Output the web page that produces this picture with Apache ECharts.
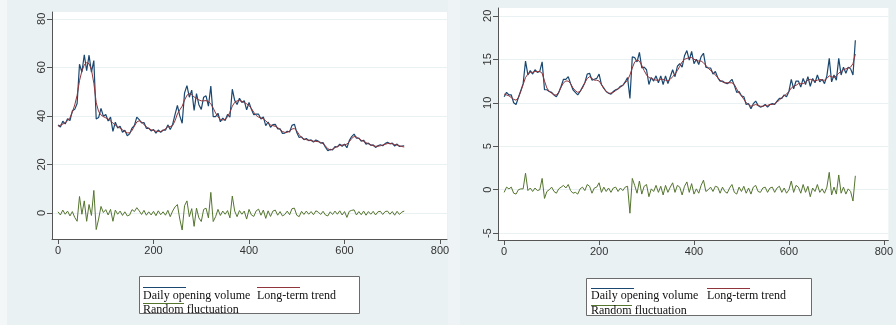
<!DOCTYPE html>
<html>
<head>
<meta charset="utf-8">
<title>Decomposition of daily opening volume</title>
<script src="https://cdn.jsdelivr.net/npm/echarts@6/dist/echarts.min.js"></script>
<style>
  html, body { margin: 0; padding: 0; background: #e9f1f3; }
  #chart { width: 896px; height: 325px; }
</style>
</head>
<body>
<div id="chart"></div>
<script>
// x index: one reading every 5 days
const leftDays = []
for (let d = 0; d <= 725; d += 5) leftDays.push(d)
const rightDays = []
for (let d = 0; d <= 740; d += 5) rightDays.push(d)

// left panel
const leftDaily = [
  36.3, 35.4, 37.8, 36.7, 38.8, 38.1, 42.1, 42.7, 45.1, 61.3,
  58.0, 65.2, 58.6, 65.0, 58.0, 62.8, 38.7, 39.3, 43.1, 39.9,
  40.6, 37.9, 39.5, 33.6, 37.4, 35.0, 35.8, 33.3, 34.1, 31.8,
  32.6, 35.0, 36.1, 39.5, 38.5, 37.1, 37.3, 34.9, 35.0, 33.8,
  34.4, 32.9, 34.2, 33.2, 34.2, 34.1, 36.3, 34.4, 36.5, 40.5,
  44.3, 40.0, 37.0, 49.5, 52.5, 47.7, 50.6, 42.3, 49.2, 44.6,
  42.7, 47.7, 48.3, 44.0, 52.3, 39.7, 39.7, 41.1, 37.6, 39.1,
  38.1, 40.6, 39.5, 51.0, 46.4, 44.7, 47.3, 45.5, 46.3, 42.5,
  45.5, 42.7, 40.5, 40.7, 40.7, 38.7, 39.6, 36.0, 37.5, 35.3,
  36.4, 36.5, 34.7, 34.7, 32.8, 32.9, 33.7, 33.4, 36.1, 36.6,
  33.2, 31.1, 31.4, 30.2, 30.7, 29.8, 30.1, 29.2, 30.1, 29.6,
  28.8, 29.0, 27.1, 25.7, 26.2, 26.0, 27.4, 27.2, 28.4, 27.5,
  28.4, 26.9, 29.8, 31.5, 32.5, 30.8, 30.9, 29.6, 30.0, 28.4,
  28.8, 27.9, 28.1, 27.0, 27.7, 28.1, 27.7, 28.6, 29.1, 28.5,
  28.8, 27.6, 28.4, 27.4, 27.6, 27.7
]
const leftTrend = [
  35.8, 36.2, 36.6, 37.2, 38.0, 39.3, 41.5, 44.5, 48.5, 54.5,
  58.5, 61.0, 62.0, 61.5, 59.0, 53.5, 45.5, 41.8, 40.4, 39.7,
  39.2, 38.7, 38.0, 37.0, 36.2, 35.5, 35.0, 34.3, 33.6, 33.0,
  33.0, 34.0, 35.8, 37.5, 38.0, 37.4, 36.5, 35.5, 34.8, 34.3,
  34.0, 33.7, 33.6, 33.6, 34.0, 34.7, 35.5, 35.6, 36.0, 38.0,
  40.8, 42.5, 44.0, 46.5, 48.5, 49.2, 48.8, 47.8, 47.2, 46.6,
  46.2, 46.2, 46.3, 46.0, 45.0, 43.2, 41.2, 39.6, 38.6, 38.3,
  38.6, 39.6, 41.5, 44.0, 45.6, 46.2, 46.3, 46.0, 45.5, 45.0,
  44.3, 43.0, 41.5, 40.2, 39.5, 39.2, 38.8, 38.0, 37.0, 36.3,
  36.0, 35.7, 35.2, 34.4, 33.6, 33.2, 33.2, 33.8, 34.6, 34.8,
  33.8, 32.3, 31.0, 30.5, 30.2, 30.0, 29.8, 29.6, 29.5, 29.4,
  29.1, 28.6, 27.6, 26.5, 26.0, 26.3, 26.9, 27.4, 27.8, 28.0,
  28.1, 28.4, 29.4, 30.7, 31.5, 31.3, 30.6, 30.0, 29.5, 29.0,
  28.5, 28.1, 27.7, 27.5, 27.5, 27.7, 28.0, 28.3, 28.6, 28.7,
  28.5, 28.2, 28.0, 27.7, 27.4, 27.2
]
const leftNoise = [
  0.5, -0.8, 1.2, -0.5, 0.8, -1.2, 0.6, -1.8, -3.4, 6.8,
  -0.5, 5.0, -3.4, 3.5, -1.0, 9.3, -6.8, -2.5, 2.7, 0.2,
  1.4, -0.8, 1.5, -3.4, 1.2, -0.5, 0.8, -1.0, 0.5, -1.2,
  -0.8, 1.4, 0.6, 2.2, 0.9, -0.6, 1.1, -0.9, 0.5, -0.8,
  0.7, -1.1, 0.9, -0.7, 0.5, -0.9, 1.1, -1.5, 0.8, 2.5,
  3.5, -2.5, -7.0, 3.0, 5.0, -1.5, 1.8, -5.5, 2.0, -2.0,
  -3.5, 1.5, 2.0, -2.0, 8.5, -3.5, -1.5, 1.5, -1.0, 0.8,
  -0.5, 1.0, -2.0, 7.0, 0.8, -1.5, 1.0, -0.5, 0.8, -2.5,
  1.5, -0.8, -1.4, 0.9, 1.6, -0.9, 1.2, -2.2, 0.9, -1.4,
  0.8, 1.2, -0.9, 0.6, -1.2, -0.6, 0.8, -0.7, 1.8, 2.0,
  -0.9, -1.5, 0.7, -0.6, 0.8, -0.5, 0.6, -0.7, 0.9, 0.4,
  -0.6, 0.7, -0.8, -1.2, 0.5, -0.6, 0.8, -0.5, 0.9, -0.8,
  0.6, -1.8, 0.7, 1.1, 1.3, -0.8, 0.6, -0.7, 0.8, -0.9,
  0.6, -0.5, 0.7, -0.8, 0.5, 0.7, -0.6, 0.6, 0.8, -0.5,
  0.6, -0.9, 0.7, -0.6, 0.4, 0.8
]

// right panel
const rightDaily = [
  10.7, 11.2, 10.9, 10.9, 10.0, 9.8, 10.6, 11.4, 12.2, 14.8,
  13.2, 13.7, 13.3, 13.8, 13.5, 13.6, 14.7, 11.5, 11.5, 11.3,
  11.2, 10.9, 10.7, 11.2, 11.9, 12.7, 12.7, 13.0, 12.2, 11.5,
  11.2, 10.9, 11.3, 11.8, 12.3, 13.3, 13.4, 12.6, 12.7, 12.8,
  13.3, 12.1, 11.7, 11.3, 11.1, 11.0, 11.3, 11.5, 11.6, 11.9,
  12.0, 12.4, 12.9, 10.5, 15.3, 15.2, 14.7, 15.8, 14.0, 14.1,
  13.8, 12.1, 12.9, 12.5, 13.1, 12.3, 13.1, 12.1, 13.1, 12.2,
  13.0, 13.8, 13.0, 14.2, 14.5, 14.1, 15.4, 16.0, 14.9, 15.9,
  14.5, 15.0, 14.4, 15.3, 15.7, 14.1, 14.0, 14.0, 13.3, 13.6,
  12.9, 12.5, 12.5, 12.3, 12.2, 12.4, 12.7, 12.0, 11.2, 11.3,
  10.8, 10.7, 9.8, 9.9, 9.3, 9.9, 10.2, 9.7, 9.5, 9.6,
  9.8, 9.5, 9.8, 9.9, 9.8, 10.2, 10.5, 10.5, 10.9, 10.7,
  11.3, 12.7, 11.6, 12.5, 12.5, 11.8, 12.8, 12.1, 13.0, 11.9,
  12.8, 12.3, 13.2, 12.4, 12.7, 12.2, 13.1, 15.1, 12.4, 13.2,
  12.6, 15.1, 13.2, 14.1, 13.4, 14.1, 13.9, 13.2, 17.2
]
const rightTrend = [
  11.0, 10.9, 10.8, 10.6, 10.4, 10.3, 10.6, 11.3, 12.1, 12.9,
  13.3, 13.5, 13.5, 13.6, 13.6, 13.6, 13.4, 12.5, 11.7, 11.3,
  11.1, 10.9, 10.9, 11.2, 11.8, 12.3, 12.5, 12.5, 12.2, 11.7,
  11.4, 11.2, 11.3, 11.7, 12.3, 12.8, 13.0, 12.8, 12.6, 12.6,
  12.5, 12.1, 11.6, 11.3, 11.1, 11.1, 11.2, 11.4, 11.6, 11.8,
  12.0, 12.3, 12.6, 13.2, 14.0, 14.7, 14.9, 14.8, 14.3, 13.7,
  13.2, 12.9, 12.8, 12.7, 12.6, 12.6, 12.7, 12.7, 12.6, 12.5,
  12.7, 13.0, 13.3, 13.7, 14.2, 14.7, 15.0, 15.1, 15.2, 15.2,
  15.0, 14.9, 14.8, 14.8, 14.6, 14.3, 14.0, 13.7, 13.5, 13.2,
  12.9, 12.6, 12.4, 12.3, 12.3, 12.3, 12.3, 12.1, 11.6, 11.1,
  10.8, 10.4, 10.0, 9.8, 9.6, 9.7, 9.8, 9.7, 9.6, 9.6,
  9.7, 9.7, 9.8, 9.8, 9.9, 10.1, 10.3, 10.6, 10.8, 11.0,
  11.3, 11.7, 11.9, 12.0, 12.2, 12.2, 12.2, 12.4, 12.6, 12.7,
  12.6, 12.5, 12.6, 12.7, 12.6, 12.6, 12.8, 13.1, 13.0, 12.9,
  13.1, 13.4, 13.6, 13.8, 13.9, 14.0, 14.1, 14.5, 15.6
]
const rightNoise = [
  -0.3, 0.3, 0.1, 0.3, -0.4, -0.5, 0.0, 0.1, 0.1, 1.9,
  -0.1, 0.2, -0.2, 0.2, -0.1, 0.0, 1.3, -1.0, -0.2, 0.0,
  0.3, -0.2, -0.4, 0.1, 0.3, 0.5, 0.2, 0.6, -0.1, -0.4,
  -0.3, -0.5, 0.1, 0.3, -0.1, 0.6, 0.4, -0.4, 0.2, 0.3,
  0.8, -0.3, 0.3, -0.2, 0.2, -0.3, 0.2, 0.3, -0.2, 0.2,
  -0.1, 0.3, 0.4, -2.7, 1.3, 0.5, -0.4, 1.0, -0.5, 0.4,
  0.6, -0.8, 0.1, -0.2, 0.5, -0.3, 0.4, -0.6, 0.5, -0.3,
  0.3, 0.8, -0.3, 0.5, 0.3, -0.6, 0.4, 0.9, -0.3, 0.7,
  -0.5, 0.1, -0.4, 0.5, 1.1, -0.2, 0.0, 0.3, -0.2, 0.4,
  0.3, -0.4, 0.3, -0.2, -0.4, 0.2, 0.6, -0.3, -0.5, 0.3,
  -0.2, 0.4, -0.4, 0.2, -0.5, 0.3, 0.5, -0.2, -0.3, 0.2,
  0.3, -0.3, 0.2, 0.3, -0.3, 0.2, 0.4, -0.3, 0.2, -0.4,
  0.0, 1.0, -0.3, 0.5, 0.3, -0.4, 0.6, -0.3, 0.4, -0.8,
  0.2, -0.2, 0.6, -0.3, 0.1, -0.4, 0.3, 2.0, -0.6, 0.3,
  -0.5, 1.7, -0.4, 0.3, -0.5, 0.1, -0.2, -1.3, 1.6
]

const xTicks = [0, 200, 400, 600, 800]
const leftYTicks = [0, 20, 40, 60, 80]
const rightYTicks = [-5, 0, 5, 10, 15, 20]
const legendNames = ['Daily opening volume', 'Long-term trend', 'Random fluctuation']

const NAVY = '#1a476f'
const MAROON = '#90353b'
const GREEN = '#55752f'
const AXIS = '#555'
const GRIDLINE = '#eaf1f3'

const pair = (days, vals) => days.map((d, i) => [d, vals[i]])

const xAxisOf = (idx, min, max) => ({
  type: 'value', gridIndex: idx, min: min, max: max,
  axisLine: { show: true, onZero: false, lineStyle: { color: AXIS, width: 1 } },
  axisTick: { show: true, length: 5, lineStyle: { color: AXIS }, customValues: xTicks },
  axisLabel: { customValues: xTicks, color: '#333', fontSize: 11, fontFamily: 'Liberation Sans', margin: 6 },
  splitLine: { show: false }
})

const yAxisOf = (idx, min, max, ticks) => ({
  type: 'value', gridIndex: idx, min: min, max: max,
  axisLine: { show: true, onZero: false, lineStyle: { color: AXIS, width: 1 } },
  axisTick: { show: true, length: 5, lineStyle: { color: AXIS }, customValues: ticks },
  axisLabel: { customValues: ticks, rotate: 90, color: '#333', fontSize: 11, fontFamily: 'Liberation Sans', margin: 5 },
  splitLine: { show: true, lineStyle: { color: GRIDLINE, width: 1 } }
})

const lineSeries = (name, idx, days, vals, color, width) => ({
  name: name, type: 'line', xAxisIndex: idx, yAxisIndex: idx,
  data: pair(days, vals), showSymbol: false, symbol: 'none',
  lineStyle: { color: color, width: width }, itemStyle: { color: color },
  silent: true, animation: false
})

// Stata-style legend box, line sample sits over each key
const legendBox = (b) => [
  { type: 'rect', shape: { x: b.x, y: b.y, width: b.w, height: b.h },
    style: { fill: '#fff', stroke: '#6b6b6b', lineWidth: 1 } },
  { type: 'line', shape: { x1: b.c1, y1: b.l1, x2: b.c1 + 43, y2: b.l1 }, style: { stroke: NAVY, lineWidth: 1 } },
  { type: 'line', shape: { x1: b.c2, y1: b.l1, x2: b.c2 + 43, y2: b.l1 }, style: { stroke: MAROON, lineWidth: 1 } },
  { type: 'line', shape: { x1: b.c1, y1: b.l2, x2: b.c1 + 41, y2: b.l2 }, style: { stroke: GREEN, lineWidth: 1 } },
  { type: 'text', x: b.c1, y: b.r1, style: { text: legendNames[0], fill: '#111', font: '12px "Liberation Serif"', verticalAlign: 'middle' } },
  { type: 'text', x: b.c2, y: b.r1, style: { text: legendNames[1], fill: '#111', font: '12px "Liberation Serif"', verticalAlign: 'middle' } },
  { type: 'text', x: b.c1, y: b.r2, style: { text: legendNames[2], fill: '#111', font: '12px "Liberation Serif"', verticalAlign: 'middle' } }
]

const chart = echarts.init(document.getElementById('chart'), null, { renderer: 'canvas' })

chart.setOption({
  backgroundColor: '#e9f1f3',
  animation: false,
  grid: [
    { left: 52, top: 12, width: 395, height: 227, show: true, backgroundColor: '#fff', borderWidth: 0 },
    { left: 498, top: 8, width: 400, height: 232, show: true, backgroundColor: '#fff', borderWidth: 0 }
  ],
  xAxis: [xAxisOf(0, -12.6, 814.6), xAxisOf(1, -13, 809.6)],
  yAxis: [yAxisOf(0, -10.7, 82.8, leftYTicks), yAxisOf(1, -5.78, 20.9, rightYTicks)],
  graphic: [
    { type: 'rect', shape: { x: 0, y: 0, width: 7, height: 325 }, style: { fill: '#f3f7f8' }, z: -1 },
    { type: 'rect', shape: { x: 448, y: 0, width: 12, height: 325 }, style: { fill: '#eef4f5' }, z: -1 }
  ].concat(
    legendBox({ x: 139.5, y: 276.5, w: 220, h: 37, c1: 143, c2: 257, l1: 287.5, l2: 303.5, r1: 296, r2: 309.5 }),
    legendBox({ x: 586.5, y: 278.5, w: 225, h: 37, c1: 591, c2: 707, l1: 288.5, l2: 305.5, r1: 295.5, r2: 311 })
  ),
  series: [
    lineSeries(legendNames[0], 0, leftDays, leftDaily, NAVY, 1.2),
    lineSeries(legendNames[1], 0, leftDays, leftTrend, MAROON, 1),
    lineSeries(legendNames[2], 0, leftDays, leftNoise, GREEN, 1),
    lineSeries(legendNames[0], 1, rightDays, rightDaily, NAVY, 1.2),
    lineSeries(legendNames[1], 1, rightDays, rightTrend, MAROON, 1),
    lineSeries(legendNames[2], 1, rightDays, rightNoise, GREEN, 1)
  ]
})
</script>
</body>
</html>
